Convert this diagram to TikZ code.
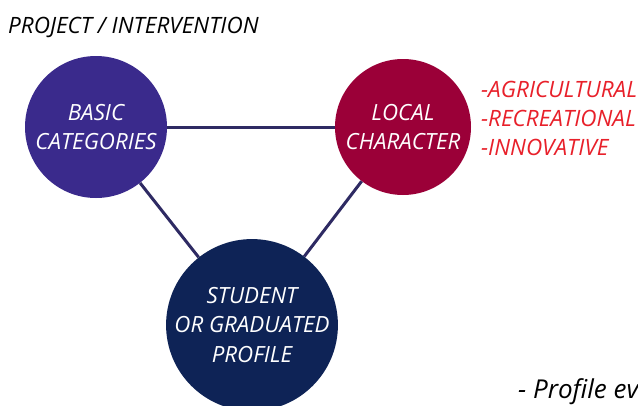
\documentclass[tikz,border=0pt]{standalone}
\usepackage{fontspec}
\setmainfont{Open Sans}
\definecolor{basicc}{HTML}{3A2A8C}
\definecolor{localc}{HTML}{9B0038}
\definecolor{studentc}{HTML}{0E2356}
\definecolor{redtxt}{HTML}{E8202A}
\definecolor{linkc}{HTML}{2E2A63}
\tikzset{
  hub/.style={circle, inner sep=0pt, align=center, text=white,
    font=\fontsize{22.3}{29.5}\selectfont\itshape},
  link/.style={draw=linkc, line width=3pt},
  plain/.style={inner sep=0pt, anchor=base west, font=\fontsize{22.5}{29}\selectfont\itshape}
}
\begin{document}
\begin{tikzpicture}[x=1pt,y=-1pt]
\clip (0,0) rectangle (638,405);
\fill[white] (0,0) rectangle (638,405);
\node[hub, fill=basicc, minimum size=142pt] (basic) at (96,127) {BASIC\\CATEGORIES};
\node[hub, fill=localc, minimum size=136pt] (local) at (403,127) {LOCAL\\CHARACTER};
\node[hub, fill=studentc, minimum size=166pt] (student) at (252,325) {STUDENT\\OR GRADUATED\\PROFILE};
\draw[link] (basic) -- (local);
\draw[link] (basic) -- (student);
\draw[link] (local) -- (student);
\node[plain] (title) at (8,33) {PROJECT / INTERVENTION};
\node[plain, text=redtxt, align=left, anchor=north west] (list) at (481,81) {-AGRICULTURAL\\-RECREATIONAL\\-INNOVATIVE};
\node[plain, font=\fontsize{26}{30}\selectfont\itshape] (eval) at (518,398) {- Profile ev};
\end{tikzpicture}
\end{document}
